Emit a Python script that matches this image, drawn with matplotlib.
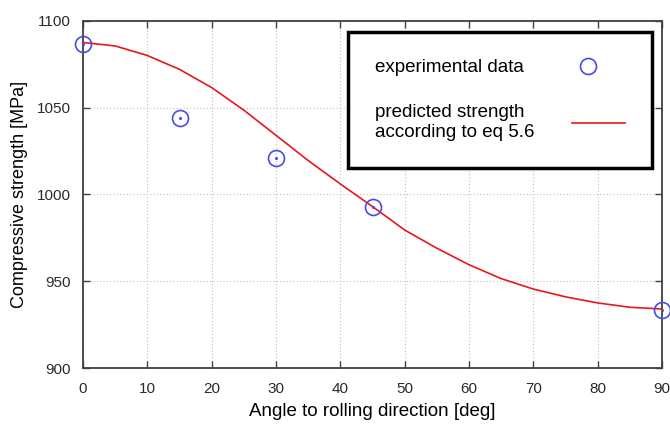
import matplotlib

matplotlib.use("Agg")
import matplotlib.pyplot as plt
from matplotlib.lines import Line2D

plt.rcParams["font.family"] = ["Liberation Sans", "DejaVu Sans"]

# measured points
angle_exp = [0, 15, 30, 45, 90]
strength_exp = [1086.5, 1044, 1021, 993, 933.5]

# predicted curve (eq 5.6)
angle_fit = [0, 5, 10, 15, 20, 25, 30, 35, 40, 45, 50, 55, 60, 65, 70, 75, 80, 85, 90]
strength_fit = [1087.5, 1085.5, 1080, 1072, 1061.5, 1048.5, 1034, 1019.5, 1006,
                993, 979.5, 969, 959.5, 951.5, 945.5, 941, 937.5, 935, 934]

fig = plt.figure(figsize=(6.7, 4.24), dpi=100)
ax = fig.add_axes([0.124, 0.132, 0.864, 0.819])

ax.plot(angle_fit, strength_fit, color="#e8171c", linewidth=1.2, zorder=3)
ax.plot(angle_exp, strength_exp, linestyle="none", marker="o", markersize=11.5,
        markerfacecolor="none", markeredgecolor="#4a4ae6", markeredgewidth=1.2,
        clip_on=False, zorder=4)
ax.plot(angle_exp, strength_exp, linestyle="none", marker="o", markersize=1.2,
        color="#4a4ae6", clip_on=False, zorder=4)

ax.set_xlim(0, 90)
ax.set_ylim(900, 1100)
ax.set_xticks(range(0, 91, 10))
ax.set_yticks(range(900, 1101, 50))
ax.grid(True, linestyle=(0, (1, 2)), color="#c0c0c0", linewidth=0.8)
ax.tick_params(direction="in", top=True, right=True, length=5, width=1,
               color="#404040", labelsize=11, labelcolor="#2a2a2a")
ax.tick_params(axis="x", pad=10)
ax.tick_params(axis="y", pad=9)
for s in ax.spines.values():
    s.set_color("#404040")
    s.set_linewidth(1.3)

ax.set_xlabel("Angle to rolling direction [deg]", fontsize=13.5, labelpad=5)
ax.set_ylabel("Compressive strength [MPa]", fontsize=13, labelpad=6)

handles = [
    Line2D([], [], linestyle="none", marker="o", markersize=11.5,
           markerfacecolor="none", markeredgecolor="#4a4ae6", markeredgewidth=1.2),
    Line2D([], [], color="#e8171c", linewidth=1.2),
]
labels = ["experimental data", "predicted strength\naccording to eq 5.6"]
leg = ax.legend(handles, labels, loc="upper right", bbox_to_anchor=(0.983, 0.968),
                markerfirst=False, fontsize=13.5, frameon=True, fancybox=False,
                borderpad=1.45, handlelength=2.8, handletextpad=2.0,
                labelspacing=1.5, borderaxespad=0)
# keep the texts left aligned like the original
for col in leg._legend_handle_box.get_children():
    col.align = "left"
leg.get_frame().set_edgecolor("black")
leg.get_frame().set_linewidth(2.5)
leg.get_frame().set_alpha(1)

fig.savefig("out.png", dpi=100)
